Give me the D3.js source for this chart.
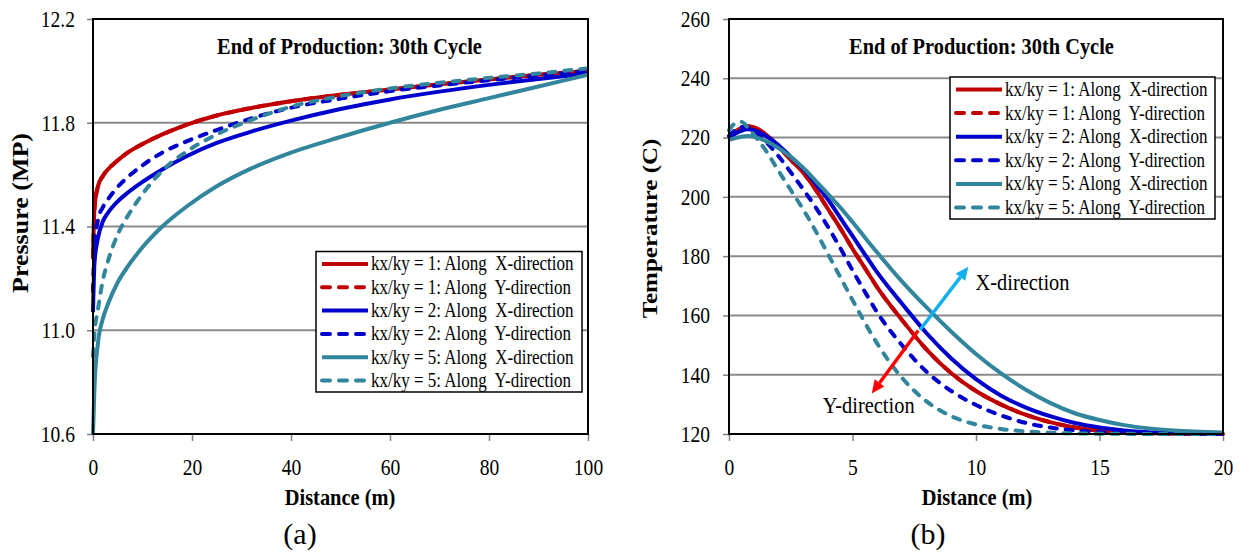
<!DOCTYPE html>
<html><head><meta charset="utf-8">
<script src="https://cdn.jsdelivr.net/npm/d3@7"></script>
<style>
body{margin:0;background:#fff}
svg{display:block}
text{font-family:"Liberation Serif","Times New Roman",serif;fill:#000}
</style></head><body>
<svg id="c" width="1244" height="556"></svg>
<script>
// ---------- DATA ----------
const seriesNames = [
  "kx/ky = 1: Along  X-direction",
  "kx/ky = 1: Along  Y-direction",
  "kx/ky = 2: Along  X-direction",
  "kx/ky = 2: Along  Y-direction",
  "kx/ky = 5: Along  X-direction",
  "kx/ky = 5: Along  Y-direction"
];
const seriesColors = ["#C00000", "#C00000", "#0000CC", "#0000CC", "#31859C", "#31859C"];
const seriesDashed = [false, true, false, true, false, true];

// (a) Pressure vs distance
const pressureDistance = [0, 0.3, 1, 2, 3, 5, 7, 10, 14, 19, 25, 32, 40, 50, 60, 70, 80, 90, 100];
const pressureK1X = [11.28, 11.47, 11.555, 11.595, 11.62, 11.655, 11.685, 11.718, 11.755, 11.793, 11.828, 11.857, 11.883, 11.908, 11.928, 11.948, 11.967, 11.985, 12.0];
const pressureK1Y = [11.28, 11.47, 11.555, 11.595, 11.62, 11.655, 11.685, 11.718, 11.755, 11.793, 11.828, 11.857, 11.883, 11.908, 11.928, 11.948, 11.967, 11.985, 12.0];
const pressureK2X = [11.07, 11.26, 11.355, 11.42, 11.452, 11.497, 11.53, 11.572, 11.62, 11.672, 11.722, 11.766, 11.808, 11.853, 11.89, 11.92, 11.946, 11.969, 11.99];
const pressureK2Y = [11.15, 11.33, 11.425, 11.475, 11.504, 11.553, 11.59, 11.636, 11.685, 11.729, 11.772, 11.817, 11.858, 11.893, 11.922, 11.944, 11.964, 11.982, 12.0];
const pressureK5X = [10.6, 10.78, 10.95, 11.045, 11.1, 11.185, 11.245, 11.32, 11.4, 11.478, 11.555, 11.624, 11.685, 11.745, 11.8, 11.85, 11.895, 11.94, 11.985];
const pressureK5Y = [10.9, 10.99, 11.08, 11.194, 11.265, 11.37, 11.44, 11.525, 11.615, 11.69, 11.755, 11.811, 11.862, 11.903, 11.932, 11.954, 11.973, 11.99, 12.01];
const pressureXTicks = [0, 20, 40, 60, 80, 100];
const pressureYTicks = [10.6, 11.0, 11.4, 11.8, 12.2];

// (b) Temperature vs distance
const tempDistance = [0, 0.25, 0.5, 0.75, 1, 1.5, 2, 2.5, 3, 3.5, 4, 4.5, 5, 5.5, 6, 7, 8, 9, 10, 11, 12, 13, 14, 15, 16, 17, 18, 20];
const tempK1X = [220.5, 222, 223.3, 223.8, 223.5, 221, 217, 212.5, 208.2, 202.5, 196, 189.5, 182.5, 176, 169.5, 158.5, 148.5, 140.5, 134.5, 130, 126.5, 124, 122.2, 121.1, 120.6, 120.3, 120.15, 120];
const tempK1Y = [220.5, 222, 223.3, 223.8, 223.5, 221, 217, 212.5, 208.2, 202.5, 196, 189.5, 182.5, 176, 169.5, 158.5, 148.5, 140.5, 134.5, 130, 126.5, 124, 122.2, 121.1, 120.6, 120.3, 120.15, 120];
const tempK2X = [220, 221.3, 222.3, 222.8, 222.5, 220.5, 217.5, 213.5, 209.5, 204.5, 199.2, 193, 186.8, 180.6, 174.5, 164, 154, 145.5, 138.5, 133, 129, 126, 123.7, 122.2, 121.2, 120.6, 120.3, 120];
const tempK2Y = [220.5, 222.5, 223.6, 223.5, 222, 218.5, 213.8, 208.3, 202.6, 196.6, 190, 182.8, 175.2, 168, 161, 150, 141, 134.5, 129.8, 126.3, 123.8, 122.2, 121.2, 120.6, 120.35, 120.2, 120.1, 120];
const tempK5X = [219.2, 219.8, 220.3, 220.5, 220.3, 218.8, 216.5, 213.5, 209.8, 205.5, 201, 196.5, 191.5, 186.3, 181.2, 171.5, 162.7, 154.5, 147, 140.5, 135, 130.5, 127, 124.7, 123, 121.9, 121.2, 120.5];
const tempK5Y = [222.5, 224.8, 225.3, 223.5, 221, 215.5, 208.8, 202.3, 195.8, 188.6, 180.8, 173, 165.2, 157.6, 150.5, 139, 131, 126, 123.2, 121.7, 120.9, 120.45, 120.2, 120.1, 120.05, 120, 120, 120];
const tempXTicks = [0, 5, 10, 15, 20];
const tempYTicks = [120, 140, 160, 180, 200, 220, 240, 260];

// annotations on (b), in data units [distance, temperature]
const arrowX = {from: [7.73, 155.1], to: [9.69, 176.4], label: "X-direction", at: [9.98, 168.6]};
const arrowY = {from: [7.66, 154.9], to: [5.78, 133.7], label: "Y-direction", at: [3.8, 127.2]};

// ---------- DRAW ----------
const svg = d3.select("#c");
const SQ = 0.85;
function squeeze(sel, s) {
  sel.each(function () {
    const x = +(this.getAttribute("x") || 0);
    d3.select(this).attr("transform", `translate(${x},0) scale(${s},1) translate(${-x},0)`);
  });
}

function panel(o) {
  const g = svg.append("g");
  const x = d3.scaleLinear().domain(o.xDomain).range([o.x0, o.x1]);
  const y = d3.scaleLinear().domain(o.yDomain).range([o.y1, o.y0]);

  // gridlines
  g.append("g").selectAll("line").data(o.yTicks.slice(1, -1)).join("line")
    .attr("x1", o.x0).attr("x2", o.x1).attr("y1", d => y(d)).attr("y2", d => y(d))
    .attr("stroke", "#8a8a8a").attr("stroke-width", 2);

  // axes
  const ya = g.append("g").attr("transform", `translate(${o.x0},0)`)
    .call(d3.axisLeft(y).tickValues(o.yTicks).tickFormat(o.yFormat).tickSize(6).tickSizeOuter(0).tickPadding(o.yPad));
  ya.attr("font-family", null).attr("font-size", null);
  ya.select(".domain").remove();
  ya.selectAll(".tick line").attr("stroke", "#808080").attr("stroke-width", 1.5);
  ya.selectAll("text").attr("font-size", 23).attr("dy", "0.32em").attr("fill", "#000");
  squeeze(ya.selectAll("text"), SQ);

  const xa = g.append("g").attr("transform", `translate(0,${o.y1})`)
    .call(d3.axisBottom(x).tickValues(o.xTicks).tickFormat(d3.format("d")).tickSize(7).tickSizeOuter(0));
  xa.attr("font-family", null).attr("font-size", null);
  xa.select(".domain").remove();
  xa.selectAll(".tick line").attr("stroke", "#808080").attr("stroke-width", 1.5);
  xa.selectAll("text").attr("font-size", 23).attr("y", 41).attr("dy", 0).attr("fill", "#000");
  squeeze(xa.selectAll("text"), SQ);

  // lines
  const line = d3.line().curve(d3.curveMonotoneX);
  o.series.forEach((vals, i) => {
    const pts = vals.map((v, j) => [x(o.xs[j]), y(v)]);
    g.append("path").attr("d", line(pts)).attr("fill", "none")
      .attr("stroke", seriesColors[i]).attr("stroke-width", 4)
      .attr("stroke-linecap", seriesDashed[i] ? "round" : "butt")
      .attr("stroke-dasharray", seriesDashed[i] ? "7,9" : null);
  });

  // frame
  g.append("rect").attr("x", o.x0).attr("y", o.y0).attr("width", o.x1 - o.x0).attr("height", o.y1 - o.y0)
    .attr("fill", "none").attr("stroke", "#000").attr("stroke-width", 2);

  // title
  const t = g.append("text").attr("x", o.titleX).attr("y", 54).attr("text-anchor", "middle")
    .attr("font-size", 24).attr("font-weight", "bold").text("End of Production: 30th Cycle");
  squeeze(t, SQ);

  // axis titles
  const xt = g.append("text").attr("x", o.xTitleX).attr("y", 505).attr("text-anchor", "middle")
    .attr("font-size", 24).attr("font-weight", "bold").text("Distance (m)");
  squeeze(xt, SQ);
  g.append("text").attr("transform", `translate(${o.yTitleX},${o.yTitleY}) rotate(-90) scale(1,${SQ})`)
    .attr("text-anchor", "middle").attr("font-size", o.yTitleSize).attr("font-weight", "bold").text(o.yTitle);

  // caption
  g.append("text").attr("x", o.capX).attr("y", 544).attr("text-anchor", "middle")
    .attr("font-size", 30).text(o.caption);

  // legend
  const L = o.legend;
  const lg = g.append("g");
  lg.append("rect").attr("x", L.x).attr("y", L.y).attr("width", L.w).attr("height", L.h)
    .attr("fill", "#fff").attr("stroke", "#000").attr("stroke-width", 1.5);
  seriesNames.forEach((name, i) => {
    const cy = L.y + L.first + i * L.step;
    lg.append("line").attr("x1", L.x + 6).attr("x2", L.x + 52).attr("y1", cy).attr("y2", cy)
      .attr("stroke", seriesColors[i]).attr("stroke-width", 4)
      .attr("stroke-linecap", seriesDashed[i] ? "round" : "butt")
      .attr("stroke-dasharray", seriesDashed[i] ? "8,9" : null);
    const tx = lg.append("text").attr("x", L.x + 55).attr("y", cy + 6.5).attr("font-size", 20)
      .attr("xml:space", "preserve").style("white-space", "pre").text(name);
    squeeze(tx, SQ);
  });
  return {g, x, y};
}

panel({
  x0: 93, x1: 588, y0: 19, y1: 434,
  xDomain: [0, 100], yDomain: [10.6, 12.2],
  xTicks: pressureXTicks, yTicks: pressureYTicks, yFormat: d3.format(".1f"), yPad: 12,
  xs: pressureDistance,
  series: [pressureK1X, pressureK1Y, pressureK2X, pressureK2Y, pressureK5X, pressureK5Y],
  titleX: 349.5, xTitleX: 340,
  yTitle: "Pressure (MP)", yTitleX: 28, yTitleY: 213, yTitleSize: 26,
  caption: "(a)", capX: 300,
  legend: {x: 316, y: 251.5, w: 266, h: 140.5, first: 12.5, step: 23.3}
});

const pb = panel({
  x0: 729, x1: 1223, y0: 19, y1: 434,
  xDomain: [0, 20], yDomain: [120, 260],
  xTicks: tempXTicks, yTicks: tempYTicks, yFormat: d3.format("d"), yPad: 13,
  xs: tempDistance,
  series: [tempK1X, tempK1Y, tempK2X, tempK2Y, tempK5X, tempK5Y],
  titleX: 981.5, xTitleX: 977,
  yTitle: "Temperature (C)", yTitleX: 657, yTitleY: 228.5, yTitleSize: 25,
  caption: "(b)", capX: 928,
  legend: {x: 950, y: 77, w: 265, h: 142, first: 12.5, step: 23.6}
});

function arrow(a, color) {
  const x1 = pb.x(a.from[0]), y1 = pb.y(a.from[1]);
  const x2 = pb.x(a.to[0]), y2 = pb.y(a.to[1]);
  const ang = Math.atan2(y2 - y1, x2 - x1);
  const hl = 13, hw = 6;
  const bx = x2 - hl * Math.cos(ang), by = y2 - hl * Math.sin(ang);
  pb.g.append("line").attr("x1", x1).attr("y1", y1).attr("x2", bx).attr("y2", by)
    .attr("stroke", color).attr("stroke-width", 3.5);
  const px = -Math.sin(ang) * hw, py = Math.cos(ang) * hw;
  pb.g.append("path").attr("d", `M${x2},${y2}L${bx + px},${by + py}L${bx - px},${by - py}Z`).attr("fill", color);
  const t = pb.g.append("text").attr("x", pb.x(a.at[0])).attr("y", pb.y(a.at[1])).attr("font-size", 24).text(a.label);
  squeeze(t, SQ);
}
arrow(arrowX, "#12B0EE");
arrow(arrowY, "#FF0000");
</script>
</body></html>
